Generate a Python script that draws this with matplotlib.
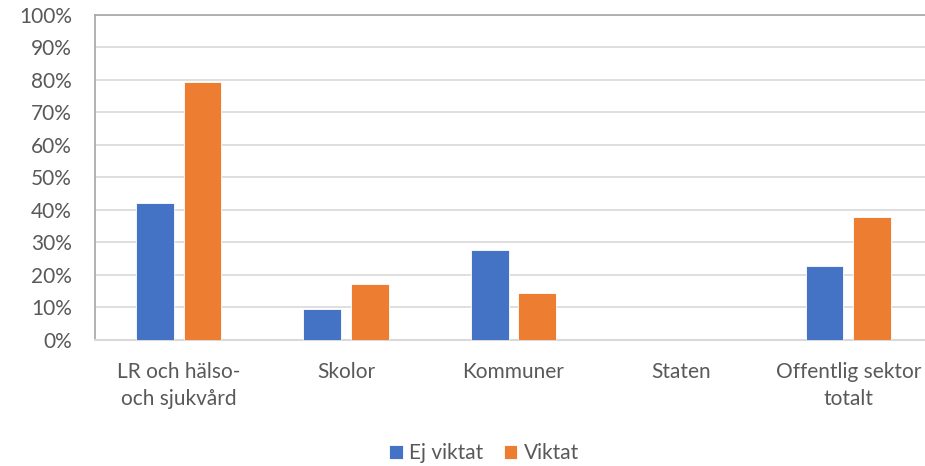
import matplotlib
matplotlib.use("Agg")
import matplotlib.pyplot as plt
import numpy as np
from matplotlib.ticker import FuncFormatter

categories = ["LR och hälso-\noch sjukvård", "Skolor", "Kommuner", "Staten", "Offentlig sektor\ntotalt"]
ej_viktat = [42.0, 9.3, 27.7, 0.0, 22.6]
viktat = [79.4, 17.0, 14.2, 0.0, 37.7]
series_names = ["Ej viktat", "Viktat"]
yticks = list(range(0, 101, 10))

plt.rcParams['font.family'] = ['Lato', 'DejaVu Sans']
text_color = "#595959"
blue = "#4472C4"
orange = "#ED7D31"

W, H = 925, 466
fig = plt.figure(figsize=(W/100, H/100), dpi=100)
left, right, top, bottom = 95, 932, 15, 339.5
ax = fig.add_axes([left/W, 1 - bottom/H, (right-left)/W, (bottom-top)/H])

x = np.arange(len(categories))
bw = 0.225
off = 0.142
ax.bar(x - off, ej_viktat, bw, color=blue, edgecolor="#ffffff", linewidth=0.6, label=series_names[0], zorder=3)
ax.bar(x + off, viktat, bw, color=orange, edgecolor="#ffffff", linewidth=0.6, label=series_names[1], zorder=3)

ax.set_xlim(-0.5, len(categories) - 0.5)
ax.set_ylim(0, 100)
ax.set_yticks(yticks)
ax.yaxis.set_major_formatter(FuncFormatter(lambda v, p: f"{int(v)}%"))
ax.set_xticks(x)
ax.set_xticklabels(categories, linespacing=1.45)

ax.grid(axis="y", color="#D9D9D9", linewidth=1.2, zorder=0)
ax.set_axisbelow(True)
ax.spines["right"].set_visible(False)
ax.spines["top"].set_color("#A6A6A6")
ax.spines["top"].set_linewidth(1.2)
ax.spines["left"].set_color("#A6A6A6")
ax.spines["left"].set_linewidth(1.2)
ax.spines["bottom"].set_color("#D9D9D9")
ax.spines["bottom"].set_linewidth(1.5)

ax.tick_params(axis="both", length=0, labelsize=15, colors=text_color)
ax.tick_params(axis="y", pad=16.5)
ax.tick_params(axis="x", pad=16)

leg = fig.legend(loc="center", bbox_to_anchor=(484/W, 1 - 453/H), ncol=2, frameon=False,
                 fontsize=15, handlelength=0.65, handleheight=0.65, handletextpad=0.3,
                 columnspacing=1.0, labelcolor=text_color)

fig.savefig("out.png", dpi=100)
